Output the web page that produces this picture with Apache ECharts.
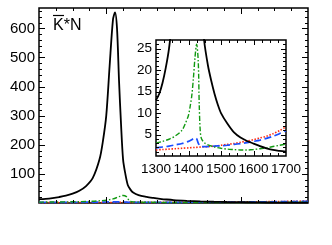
<!DOCTYPE html>
<html><head><meta charset="utf-8">
<script src="https://cdn.jsdelivr.net/npm/echarts@6/dist/echarts.min.js"></script>
<style>html,body{margin:0;padding:0;background:#fff}#c{width:332px;height:245px}</style>
</head><body><div id="c"></div>
<script>
// ---- data ----
const blackX = [1300,1310,1320,1330,1340,1350,1360,1370,1380,1390,1395,1400,1405,1410,1413,1416,1419,1422,1425,1428,1432,1436,1440,1448,1460,1470,1480,1490,1500,1520,1540,1560,1580,1600,1620,1640,1660,1680,1700];
const blackY = [13,14.5,17,20.5,25,32,42,58,86,150,212,300,470,630,655,600,420,270,150,105,62,46,36,27,21,17.5,14.5,12,10,7.5,5.5,4.3,3.5,2.9,2.3,1.8,1.4,1.2,1.0];
const greenX = [1300,1320,1340,1360,1380,1390,1400,1405,1410,1415,1420,1425,1430,1433,1436,1440,1450,1460,1480,1500,1520,1540,1560,1580,1600,1620,1640,1660,1680,1700];
const greenY = [3.0,3.4,3.9,4.7,6.0,7.5,9.5,11.5,14,18,23,26,22,12,6,4,3.0,2.6,2.1,1.8,1.6,1.5,1.4,1.4,1.5,1.7,1.9,2.2,2.5,2.8];
const blueX = [1300,1320,1340,1360,1380,1400,1410,1420,1425,1430,1435,1440,1460,1480,1500,1520,1540,1560,1580,1600,1620,1640,1660,1680,1700];
const blueY = [1.9,2.1,2.3,2.6,2.9,3.4,3.8,4.2,4.0,3.0,2.4,2.2,2.2,2.3,2.4,2.5,2.7,2.9,3.1,3.4,3.7,4.1,4.6,5.2,5.9];
const redX = [1300,1320,1340,1360,1380,1400,1420,1440,1460,1480,1500,1520,1540,1560,1580,1600,1620,1640,1660,1680,1700];
const redY = [1.4,1.5,1.6,1.7,1.8,1.9,2.0,2.1,2.2,2.3,2.5,2.7,2.9,3.2,3.5,3.8,4.2,4.6,5.2,5.9,6.8];

// ---- tick labels ----
const mainYLabels = [100,200,300,400,500,600];
const mainXMajor = [1400,1600];
const insetXLabels = [1300,1400,1500,1600,1700];
const insetYLabels = [5,10,15,20,25];
const panelLabel = 'K*N';

const FONT = 'Liberation Sans';

function axis(grid, pos, min, max, labels, fs){
  return {
    type:'value', gridIndex:grid, position:pos, min:min, max:max,
    axisLine:{show:false, onZero:false},
    splitLine:{show:false},
    axisTick:{show:false},
    axisLabel:labels ? {show:true, customValues:labels, formatter:(v)=>String(v),
      color:'#000', fontFamily:FONT, fontSize:fs||15, margin:(pos==='bottom'?6:4)} : {show:false}
  };
}
const zip = (xs,ys)=>xs.map((x,i)=>[x,ys[i]]);

const xAxes = [ axis(0,'bottom',1300,1700,null), axis(1,'bottom',1300,1700,insetXLabels,13.5) ];
const yAxes = [ axis(0,'left',0,670,mainYLabels), axis(1,'left',0,27,insetYLabels,13.5) ];

function mk(g, xs, ys, color, width, dash, z){
  return {type:'line', xAxisIndex:g, yAxisIndex:g, data:zip(xs,ys), showSymbol:false, symbol:'none',
    smooth:0.3, clip:true, z:z, silent:true, animation:false,
    lineStyle:{color:color, width:width, type:dash||'solid'}};
}
const series = [];
for (const g of [0,1]) {
  series.push(mk(g, redX, redY, '#ff2a10', 1.6, [1.5,1.6], 3));
  series.push(mk(g, blueX, blueY, '#1a4dff', 1.7, [7,3.5], 3));
  series.push(mk(g, greenX, greenY, '#119911', 1.4, [5,2,1.5,2], 4));
  series.push(mk(g, blackX, blackY, '#000000', 1.8, 'solid', 5));
}

const chart = echarts.init(document.getElementById('c'), null, {renderer:'canvas'});
chart.setOption({
  animation:false,
  backgroundColor:'#fff',
  grid:[
    {left:39, top:8, right:24, bottom:42, show:true, borderColor:'#000', borderWidth:1.5, backgroundColor:'transparent'},
    {left:156, top:40, width:130, height:116, show:true, borderColor:'#000', borderWidth:1.5, backgroundColor:'#fff'}
  ],
  xAxis: xAxes, yAxis: yAxes, series: series
});

// tick marks placed through the axes' own scales
function ticks(g, xStep, xMajorFn, xLen, yStep, yMajorFn, yLen, xr, yr){
  const els = [];
  const px = v => chart.convertToPixel({xAxisIndex:g}, v);
  const py = v => chart.convertToPixel({yAxisIndex:g}, v);
  const L = px(xr[0]), R = px(xr[1]), B = py(yr[0]), T = py(yr[1]);
  const line = (x1,y1,x2,y2)=>els.push({type:'line', silent:true, z:100,
    shape:{x1,y1,x2,y2}, style:{stroke:'#000', lineWidth:1}});
  for (let v = xr[0] + xStep; v < xr[1] - 1e-9; v += xStep) {
    const x = Math.round(px(v)) + 0.5, len = xMajorFn(v) ? xLen[0] : xLen[1];
    line(x, B, x, B - len); line(x, T, x, T + len);
  }
  for (let v = yr[0] + yStep; v < yr[1] - 1e-9; v += yStep) {
    const y = Math.round(py(v)) + 0.5, len = yMajorFn(v) ? yLen[0] : yLen[1];
    line(L, y, L + len, y); line(R, y, R - len, y);
  }
  return els;
}
const tickEls = [].concat(
  ticks(0, 25, v=>mainXMajor.includes(v), [6,3], 20, v=>v%100===0, [6,3], [1300,1700], [0,670]),
  ticks(1, 25, v=>v%100===0, [5,3], 1, v=>v%5===0, [5,3], [1300,1700], [0,27])
);
chart.setOption({
  graphic: tickEls.concat([
    {type:'text', left:53, top:18, z:100, style:{text:panelLabel, font:'16px "Liberation Sans"', fill:'#000'}},
    {type:'line', z:100, shape:{x1:53, y1:15.5, x2:64, y2:15.5}, style:{stroke:'#000', lineWidth:1.2}}
  ])
});
</script></body></html>
